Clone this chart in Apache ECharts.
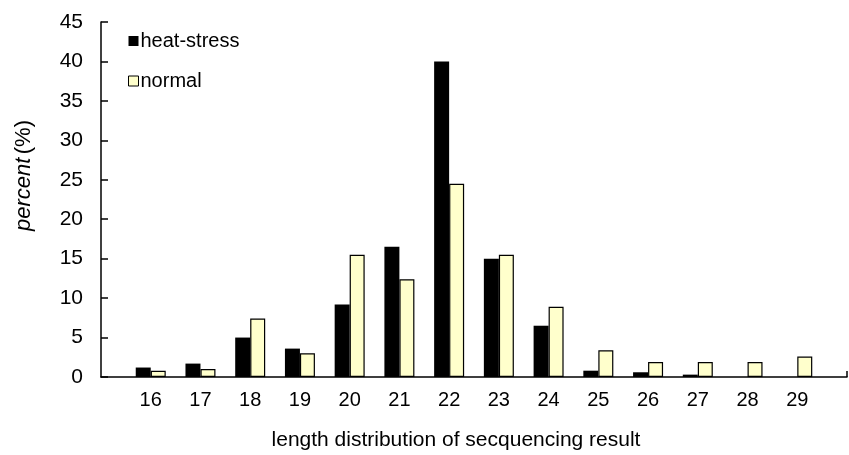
<!DOCTYPE html>
<html><head><meta charset="utf-8">
<script src="https://cdn.jsdelivr.net/npm/echarts@6/dist/echarts.min.js"></script>
<style>html,body{margin:0;padding:0;background:#fff}#c{width:849px;height:455px}</style>
</head><body><div id="c"></div>
<script>
const categories = ['', '16','17','18','19','20','21','22','23','24','25','26','27','28','29', ''];
const heatStress = [null, 1.2, 1.7, 5.0, 3.6, 9.2, 16.5, 40.0, 15.0, 6.5, 0.8, 0.6, 0.3, 0, 0, null];
const normal     = [null, 0.8, 1.0, 7.4, 3.0, 15.5, 12.4, 24.5, 15.5, 8.9, 3.4, 1.9, 1.9, 1.9, 2.6, null];
const yTicks = { min: 0, max: 45, interval: 5 };
const font = 'Liberation Sans, Arial, sans-serif';
const chart = echarts.init(document.getElementById('c'));
chart.setOption({
  animation: false,
  backgroundColor: '#fff',
  grid: { left: 101, right: 2, top: 22, bottom: 78, outerBoundsMode: 'none', containLabel: false },
  legend: {
    orient: 'vertical', left: 123, top: 26, itemWidth: 10, itemHeight: 10, itemGap: 20,
    textStyle: { fontFamily: font, fontSize: 20, color: '#000', padding: [0,0,0,-3] },
    data: [
      { name: 'heat-stress', icon: 'rect', itemStyle: { color: '#000' } },
      { name: 'normal', icon: 'rect', itemStyle: { color: '#FFFFCC', borderColor: '#000', borderWidth: 1 } }
    ]
  },
  xAxis: {
    type: 'category', data: categories, boundaryGap: false,
    axisLine: { lineStyle: { color: '#000', width: 1.5 } },
    axisTick: { show: true, inside: true, length: 6, lineStyle: { color: '#000', width: 1.5 },
      interval: (i) => i === categories.length - 1 },
    axisLabel: { fontFamily: font, fontSize: 20, color: '#000', margin: 13, interval: 0 },
    name: 'length distribution of secquencing result', nameLocation: 'middle', nameGap: 53,
    nameTextStyle: { fontFamily: font, fontSize: 21, color: '#000', padding: [0, 36, 0, 0] }
  },
  yAxis: {
    type: 'value', min: yTicks.min, max: yTicks.max, interval: yTicks.interval,
    splitLine: { show: false },
    axisLine: { show: true, lineStyle: { color: '#000', width: 1.5 } },
    axisTick: { show: true, inside: true, length: 7, lineStyle: { color: '#000', width: 1.5 } },
    axisLabel: { fontFamily: font, fontSize: 21, color: '#000', margin: 18 },
    name: '{i|percent} {n|(%)}', nameLocation: 'middle', nameGap: 66, nameRotate: 90,
    nameTextStyle: { padding: [0, 0, 0, 48], rich: {
      i: { fontFamily: font, fontSize: 22, fontStyle: 'italic', color: '#000' },
      n: { fontFamily: font, fontSize: 22, color: '#000' } } }
  },
  series: [
    { name: 'heat-stress', type: 'bar', data: heatStress, barWidth: 15, barGap: '0%',
      itemStyle: { color: '#000' } },
    { name: 'normal', type: 'bar', data: normal, barWidth: 15,
      itemStyle: { color: '#FFFFCC', borderColor: '#000', borderWidth: 1.2 } }
  ]
});
</script></body></html>
